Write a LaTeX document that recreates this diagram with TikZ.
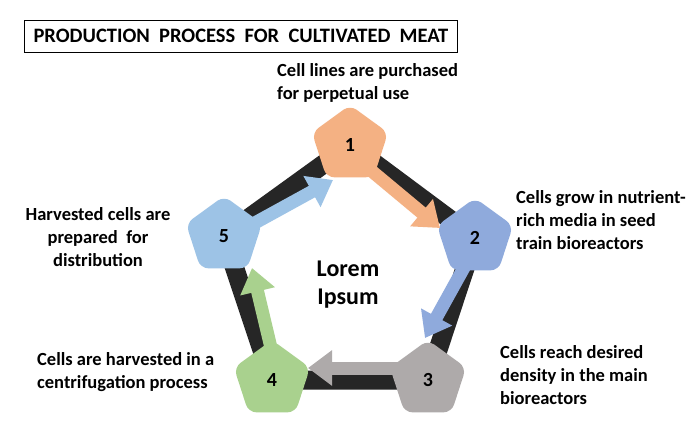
\documentclass[tikz,border=0pt]{standalone}
\usepackage{fontspec}
\setmainfont{Carlito}
\usetikzlibrary{shapes.geometric,arrows.meta}
\definecolor{step_one}{HTML}{F4B183}
\definecolor{step_two}{HTML}{8FAADC}
\definecolor{step_three}{HTML}{AEAAAA}
\definecolor{step_four}{HTML}{A9D18E}
\definecolor{step_five}{HTML}{9DC3E6}
\definecolor{ring}{HTML}{262626}
\tikzset{
  stepgon/.style={regular polygon, regular polygon sides=5, minimum size=80pt,
    rounded corners=8pt, inner sep=0pt, font=\bfseries\fontsize{20}{20}\selectfont},
  flow/.style={line width=13pt, -{Triangle[length=24pt,width=34pt]}},
  caption/.style={align=left, font=\bfseries\fontsize{18.5}{23}\selectfont, anchor=north west, inner sep=0pt}
}
\begin{document}
\begin{tikzpicture}[x=1pt,y=-1pt]
    \useasboundingbox[fill=white] (0,0) rectangle (696,441);
    % Titre
    \node[draw, thick, minimum width=433pt, minimum height=32pt, font=\bfseries\fontsize{20.5}{21}\selectfont] (title) at (241,36) {PRODUCTION\ \ PROCESS\ \ FOR\ \ CULTIVATED\ \ MEAT};
    % Anneau
    \draw[ring, line width=19pt, line join=round] (350,145) -- (475,238) -- (428,380) -- (272,380) -- (224,236) -- cycle;
    % Etapes
    \node[stepgon, fill=step_one] (s1) at (350,145) {1};
    \node[stepgon, fill=step_two] (s2) at (475,238) {2};
    \node[stepgon, fill=step_three] (s3) at (428,380) {3};
    \node[stepgon, fill=step_four] (s4) at (272,380) {4};
    \node[stepgon, fill=step_five] (s5) at (224,236) {5};
    % Fleches
    \coordinate (a1) at (368,168); \coordinate (b1) at (440,228);
    \coordinate (a2) at (466,264); \coordinate (b2) at (425,338);
    \coordinate (a3) at (400,368); \coordinate (b3) at (308,368);
    \coordinate (a4) at (272,352); \coordinate (b4) at (252,268);
    \coordinate (a5) at (242,230); \coordinate (b5) at (333,180);
    \draw[flow, step_one] (a1) -- (b1);
    \draw[flow, step_two] (a2) -- (b2);
    \draw[flow, step_three] (a3) -- (b3);
    \draw[flow, step_four] (a4) -- (b4);
    \draw[flow, step_five] (a5) -- (b5);
    % Textes
    \node[align=center, font=\bfseries\fontsize{24}{28}\selectfont] (center) at (348,285) {Lorem\\Ipsum};
    \node[caption] (t1) at (277,63) {Cell lines are purchased\\for perpetual use};
    \node[caption] (t2) at (516,190) {Cells grow in nutrient-\\rich media in seed\\train bioreactors};
    \node[caption] (t3) at (500,345) {Cells reach desired\\density in the main\\bioreactors};
    \node[caption] (t4) at (37,352) {Cells are harvested in a\\centrifugation process};
    \node[caption, align=center, anchor=north] (t5) at (98,207) {Harvested cells are\\prepared\ \ for\\distribution};
\end{tikzpicture}
\end{document}
